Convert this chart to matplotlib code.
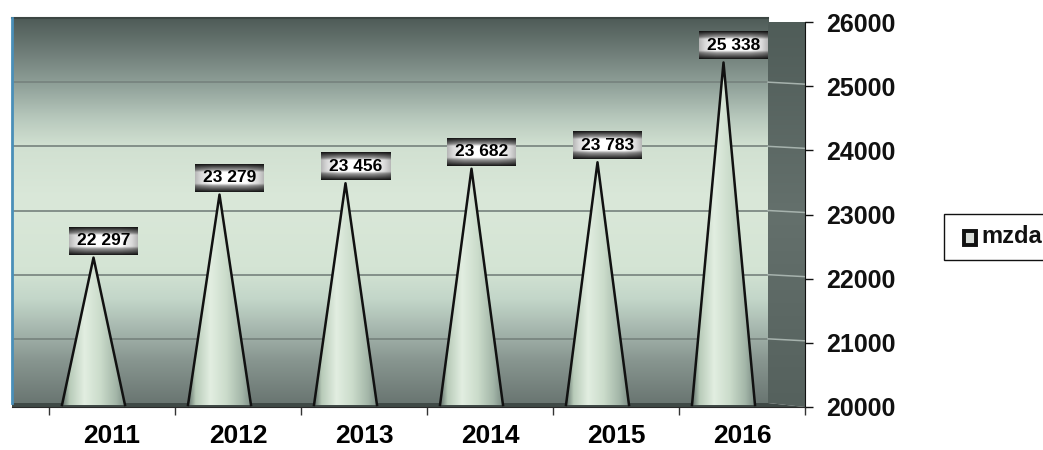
import matplotlib
matplotlib.use('Agg')
import matplotlib.pyplot as plt
import numpy as np
from matplotlib.colors import LinearSegmentedColormap
from matplotlib.patches import Polygon, Rectangle

years = ['2011', '2012', '2013', '2014', '2015', '2016']
mzda = [22297, 23279, 23456, 23682, 23783, 25338]
value_labels = ['22 297', '23 279', '23 456', '23 682', '23 783', '25 338']
yticks = [20000, 21000, 22000, 23000, 24000, 25000, 26000]
series_name = 'mzda'

plt.rcParams['font.family'] = ['Liberation Sans', 'DejaVu Sans']

W, H = 1043, 450
fig = plt.figure(figsize=(W / 100, H / 100), dpi=100)
fig.patch.set_facecolor('white')

# plot box in pixels (front frame)
L, R, T, B = 12, 805, 22, 407
ax = fig.add_axes([L / W, 1 - B / H, (R - L) / W, (B - T) / H])
px_x = 126.0
ymin, ymax = yticks[0], yticks[-1]
px_y = (B - T) / (ymax - ymin)
xl = -0.5 - (49 - L) / px_x
xr = len(years) - 0.5
ax.set_xlim(xl, xr)
ax.set_ylim(ymin, ymax)

# 3d depth offset
dx = -37 / px_x
dy = 4 / px_y

# back wall gradient
wall_cmap = LinearSegmentedColormap.from_list('wall', [
    (0.0, '#4f5c58'), (0.08, '#6c7a75'), (0.18, '#93a49c'), (0.26, '#b8c9bd'),
    (0.33, '#d1e0d1'), (0.47, '#dae8d9'), (0.65, '#d4e4d4'), (0.73, '#c3d6c9'),
    (0.81, '#a6b7ae'), (0.89, '#889690'), (1.0, '#6a7672')])
grad = np.linspace(0, 1, 256)[:, None]
im = ax.imshow(grad, cmap=wall_cmap, aspect='auto', interpolation='bilinear',
               extent=(xl, xr + dx, ymin + dy, ymax + dy), origin='upper', zorder=0)
im.set_clip_on(False)

# side wall
side_cmap = LinearSegmentedColormap.from_list('side', [
    (0.0, '#4f5c58'), (0.5, '#64706c'), (1.0, '#55615d')])
side = Polygon([(xr + dx, ymax + dy), (xr, ymax), (xr, ymin), (xr + dx, ymin + dy)],
               closed=True, facecolor='none', edgecolor='none')
ax.add_patch(side)
sim = ax.imshow(grad, cmap=side_cmap, aspect='auto', interpolation='bilinear',
                extent=(xr + dx, xr, ymin, ymax + dy), origin='upper', zorder=0.5)
sim.set_clip_path(side)

# floor
floor = Polygon([(xl, ymin + dy), (xr + dx, ymin + dy), (xr, ymin), (xl, ymin)],
                closed=True, facecolor='#3f4946', edgecolor='none', zorder=0.6, clip_on=False)
ax.add_patch(floor)

# gridlines
for v in yticks[1:-1]:
    ax.plot([xl, xr + dx], [v + dy, v + dy], color='#76827d', lw=1.2, zorder=1)
    ax.plot([xr + dx, xr], [v + dy, v + dy / 2], color='#a6b2ad', lw=1.1, zorder=1)
ax.plot([xl, xr + dx], [ymax + dy, ymax + dy], color='#3c4643', lw=1.5, zorder=1, clip_on=False)
ax.plot([xl, xl], [ymin + dy, ymax + dy], color='#4a8fb8', lw=2, zorder=1, clip_on=False)

# cones
cone_cmap = LinearSegmentedColormap.from_list('cone', [
    (0.0, '#5f6e68'), (0.12, '#b8cbb9'), (0.35, '#e2eee1'), (0.6, '#cbdccb'),
    (0.85, '#a3b6a8'), (1.0, '#7b8c84')])
hgrad = np.linspace(0, 1, 256)[None, :]
hw = 0.25
for i, v in enumerate(mzda):
    cx = i + dx / 2
    base = ymin + dy / 2
    top = v + dy / 2
    tri = Polygon([(cx - hw, base), (cx, top), (cx + hw, base)], closed=True,
                  facecolor='none', edgecolor='none')
    ax.add_patch(tri)
    cim = ax.imshow(hgrad, cmap=cone_cmap, aspect='auto', interpolation='bilinear',
                    extent=(cx - hw, cx + hw, base, top), zorder=2)
    cim.set_clip_path(tri)
    ax.plot([cx - hw, cx, cx + hw], [base, top, base], color='#111111', lw=1.8, zorder=3)

# data label boxes
ny, nx = 40, 80
t = np.linspace(0, 1, ny)
vert = np.interp(t, [0, 0.06, 0.2, 0.28, 0.7, 0.78, 0.94, 1.0],
                 [0.1, 0.25, 0.6, 1.0, 1.0, 0.6, 0.25, 0.1])
s = np.linspace(0, 1, nx)
horiz = np.interp(s, [0, 0.08, 0.25, 0.75, 0.92, 1.0], [0.72, 0.85, 1.0, 1.0, 0.85, 0.72])
box_img = vert[:, None] * horiz[None, :]
bw = 69 / px_x
bh = 28 / px_y
for i, (v, lab) in enumerate(zip(mzda, value_labels)):
    bx = i + dx / 2 + 10 / px_x
    bb = v + dy / 2 + 3 / px_y
    bim = ax.imshow(box_img, cmap='gray', vmin=0, vmax=1, aspect='auto',
                    interpolation='bilinear', origin='upper',
                    extent=(bx - bw / 2, bx + bw / 2, bb, bb + bh), zorder=4)
    bim.set_clip_on(False)
    ax.text(bx, bb + bh / 2, lab, ha='center', va='center', fontsize=12.5,
            fontweight='bold', color='black', zorder=5)

# axes styling
for sp in ['left', 'top']:
    ax.spines[sp].set_visible(False)
ax.spines['right'].set_color('#111111')
ax.spines['bottom'].set_color('#2a2a2a')
ax.spines['bottom'].set_bounds(xl, xr)
ax.yaxis.tick_right()
ax.set_yticks(yticks)
ax.set_yticklabels([str(v) for v in yticks], fontsize=18, fontweight='bold')
ax.tick_params(axis='y', length=6, width=1, pad=9, colors='#111111')
ax.set_xticks(range(len(years)))
ax.set_xticklabels(years, fontsize=19, fontweight='bold')
ax.set_xticks(np.arange(-0.5, len(years), 1.0), minor=True)
ax.tick_params(axis='x', which='major', length=0, pad=12)
ax.tick_params(axis='x', which='minor', length=6, width=1, colors='#333333')

# legend box (sits at right edge, clipped)
def fx(p):
    return p / W

def fy(p):
    return 1 - p / H

fig.add_artist(Rectangle((fx(944), fy(260)), fx(1060) - fx(944), fy(214) - fy(260),
                         transform=fig.transFigure, facecolor='white',
                         edgecolor='#111111', lw=1))
fig.add_artist(Rectangle((fx(964), fy(245)), fx(976) - fx(964), fy(231) - fy(245),
                         transform=fig.transFigure, facecolor='#d8dcd8',
                         edgecolor='#111111', lw=2.8))
fig.text(fx(981), fy(237), series_name, fontsize=17, fontweight='bold',
         ha='left', va='center', color='#111111')

fig.savefig('out.png', dpi=100)
